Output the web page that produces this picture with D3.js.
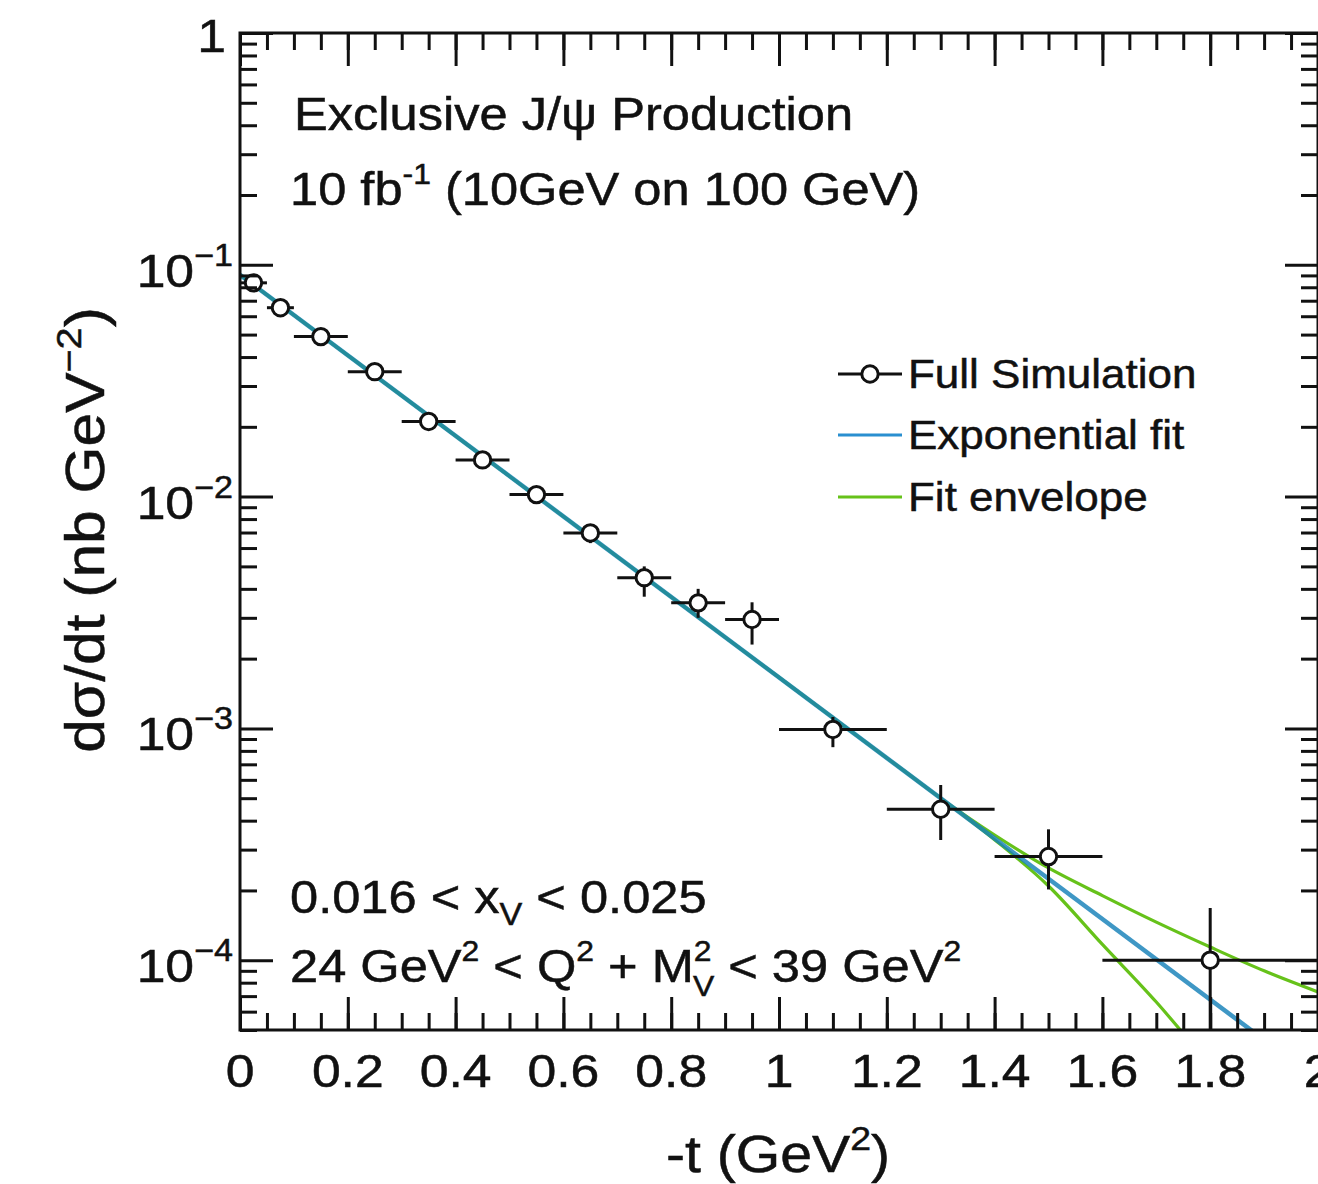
<!DOCTYPE html>
<html>
<head>
<meta charset="utf-8">
<script src="https://cdn.jsdelivr.net/npm/d3@7"></script>
<style>
  html, body { margin: 0; padding: 0; background: #ffffff; }
  svg { display: block; }
  text { font-family: "Liberation Sans", Arial, Helvetica, sans-serif; fill: #111; stroke: #111; stroke-width: 0.5; }
</style>
</head>
<body>
<svg id="chart" width="1318" height="1184"></svg>
<script>
// ---------------- data ----------------
const tCenters   = [0.025, 0.075, 0.15, 0.25, 0.35, 0.45, 0.55, 0.65, 0.75, 0.85, 0.95, 1.1, 1.3, 1.5, 1.8];
const tHalfWidth = [0.025, 0.025, 0.05, 0.05, 0.05, 0.05, 0.05, 0.05, 0.05, 0.05, 0.05, 0.1, 0.1, 0.1, 0.2];
const dsdt       = [0.0836, 0.0653, 0.049, 0.0346, 0.0211, 0.0144, 0.0102, 0.00697, 0.00447, 0.00348, 0.00295, 0.00099, 0.000448, 0.00028, 0.0001];
const dsdtLow    = [0.081, 0.063, 0.047, 0.033, 0.0199, 0.0134, 0.0094, 0.0063, 0.0037, 0.0030, 0.0023, 0.00083, 0.00033, 0.000202, 0.00003];
const dsdtHigh   = [0.086, 0.067, 0.051, 0.0363, 0.0224, 0.0154, 0.0110, 0.0076, 0.0050, 0.0040, 0.0035, 0.00112, 0.00057, 0.000367, 0.000168];

// exponential fit (straight line on log axis), endpoints
const fitT   = [0, 2.0];
const fitVal = [0.0905, 3.04e-5];

// fit envelope curves (coincide with the fit up to t ~ 1.3)
const envUpperT   = [0, 0.5, 1.0, 1.2, 1.3, 1.4, 1.5, 1.6, 1.7, 1.8, 1.9, 2.0];
const envUpperVal = [0.0905, 0.01225, 0.00166, 7.46e-4, 5.0e-4, 3.47e-4, 2.5e-4, 1.9e-4, 1.46e-4, 1.14e-4, 9.0e-5, 7.3e-5];
const envLowerT   = [0, 0.5, 1.0, 1.2, 1.3, 1.4, 1.5, 1.6, 1.7, 1.8];
const envLowerVal = [0.0905, 0.01225, 0.00166, 7.46e-4, 5.0e-4, 3.31e-4, 2.09e-4, 1.17e-4, 6.6e-5, 3.5e-5];

const xMajorTicks = [0, 0.2, 0.4, 0.6, 0.8, 1, 1.2, 1.4, 1.6, 1.8, 2];
const xTickLabels = ["0", "0.2", "0.4", "0.6", "0.8", "1", "1.2", "1.4", "1.6", "1.8", "2"];
const yMajorTicks = [1, 1e-1, 1e-2, 1e-3, 1e-4];
const yTickExps   = [null, "\u22121", "\u22122", "\u22123", "\u22124"];

const legendLabels = ["Full Simulation", "Exponential fit", "Fit envelope"];

// ---------------- layout ----------------
const L = 240, R = 1318, T = 33, B = 1030;
const SX = 1.1; // horizontal stretch of glyphs in the reference
const BLUE = "#1580b8", GREEN = "#66c21a";
const MR = 8.2;

const svg = d3.select("#chart");
svg.append("rect").attr("width", 1318).attr("height", 1184).attr("fill", "#fff");

const x = d3.scaleLinear().domain([0, 2]).range([L, R]);
const y = d3.scaleLog().domain([5e-5, 1]).range([B, T]);

svg.append("defs").append("clipPath").attr("id", "clip")
  .append("rect").attr("x", L).attr("y", T).attr("width", R - L).attr("height", B - T);

// ---------------- curves ----------------
const curveG = svg.append("g").attr("clip-path", "url(#clip)");
const lineGen = d3.line().x(d => x(d[0])).y(d => y(d[1])).curve(d3.curveMonotoneX);

curveG.append("path").datum(d3.zip(envUpperT, envUpperVal)).attr("d", lineGen)
  .attr("fill", "none").attr("stroke", GREEN).attr("stroke-width", 3.2);
curveG.append("path").datum(d3.zip(envLowerT, envLowerVal)).attr("d", lineGen)
  .attr("fill", "none").attr("stroke", GREEN).attr("stroke-width", 3.2);
curveG.append("path").datum(d3.zip(fitT, fitVal)).attr("d", d3.line().x(d => x(d[0])).y(d => y(d[1])))
  .attr("fill", "none").attr("stroke", BLUE).attr("stroke-opacity", 0.82).attr("stroke-width", 4.5);

// ---------------- data points ----------------
const pts = tCenters.map((t, i) => ({t, hw: tHalfWidth[i], v: dsdt[i], lo: dsdtLow[i], hi: dsdtHigh[i]}));
const ptG = svg.append("g").attr("clip-path", "url(#clip)");
const eb = ptG.selectAll("g.pt").data(pts).join("g").attr("class", "pt");
eb.append("line").attr("x1", d => x(d.t - d.hw)).attr("x2", d => x(d.t + d.hw))
  .attr("y1", d => y(d.v)).attr("y2", d => y(d.v)).attr("stroke", "#111").attr("stroke-width", 3);
eb.append("line").attr("x1", d => x(d.t)).attr("x2", d => x(d.t))
  .attr("y1", d => y(d.lo)).attr("y2", d => y(d.hi)).attr("stroke", "#111").attr("stroke-width", 3);
eb.append("circle").attr("cx", d => x(d.t)).attr("cy", d => y(d.v)).attr("r", MR)
  .attr("fill", "#fff").attr("stroke", "#111").attr("stroke-width", 3);

// ---------------- axes / frame ----------------
const axisStyle = g => g.call(s => s.select(".domain").remove())
  .call(s => s.selectAll("line").attr("stroke", "#111").attr("stroke-width", 3));

const xMinor = d3.range(0, 2.0001, 0.05).map(v => +v.toFixed(2));
svg.append("g").attr("transform", `translate(0,${B})`)
  .call(d3.axisBottom(x).tickValues(xMinor).tickSize(-17).tickFormat("")).call(axisStyle);
svg.append("g").attr("transform", `translate(0,${B})`)
  .call(d3.axisBottom(x).tickValues(xMajorTicks).tickSize(-33).tickFormat("")).call(axisStyle);
svg.append("g").attr("transform", `translate(0,${T})`)
  .call(d3.axisTop(x).tickValues(xMinor).tickSize(-17).tickFormat("")).call(axisStyle);
svg.append("g").attr("transform", `translate(0,${T})`)
  .call(d3.axisTop(x).tickValues(xMajorTicks).tickSize(-33).tickFormat("")).call(axisStyle);

const yMinor = [];
for (let e = -5; e < 0; e++) for (let m = 2; m <= 9; m++) {
  const v = m * Math.pow(10, e);
  if (v >= 5e-5 && v <= 1) yMinor.push(v);
}
svg.append("g").attr("transform", `translate(${L},0)`)
  .call(d3.axisLeft(y).tickValues(yMinor).tickSize(-17).tickFormat("")).call(axisStyle);
svg.append("g").attr("transform", `translate(${L},0)`)
  .call(d3.axisLeft(y).tickValues(yMajorTicks).tickSize(-33).tickFormat("")).call(axisStyle);
svg.append("g").attr("transform", `translate(${R},0)`)
  .call(d3.axisRight(y).tickValues(yMinor).tickSize(-17).tickFormat("")).call(axisStyle);
svg.append("g").attr("transform", `translate(${R},0)`)
  .call(d3.axisRight(y).tickValues(yMajorTicks).tickSize(-33).tickFormat("")).call(axisStyle);

svg.append("rect").attr("x", L).attr("y", T).attr("width", R - L).attr("height", B - T)
  .attr("fill", "none").attr("stroke", "#111").attr("stroke-width", 3);

// ---------------- text helper ----------------
function txt(xp, yp, size, anchor) {
  return svg.append("text")
    .attr("transform", `translate(${xp},${yp}) scale(${SX},1)`)
    .attr("font-size", size).attr("text-anchor", anchor || "start");
}

// x tick labels
xMajorTicks.forEach((v, i) => {
  txt(x(v), 1087, 47, "middle").text(xTickLabels[i]);
});
// y tick labels
yMajorTicks.forEach((v, i) => {
  if (yTickExps[i] === null) {
    txt(226, y(v) + 19, 47, "end").text("1");
  } else {
    const t = txt(233, y(v) + 22, 47, "end");
    t.append("tspan").text("10");
    t.append("tspan").attr("dy", -21).attr("font-size", 31).text(yTickExps[i]);
  }
});

// axis titles
{
  const t = txt(778, 1172, 52, "middle");
  t.append("tspan").text("-t (GeV");
  t.append("tspan").attr("dy", -22).attr("font-size", 34).text("2");
  t.append("tspan").attr("dy", 22).text(")");
}
{
  const t = svg.append("text")
    .attr("transform", `translate(104,530) rotate(-90) scale(${SX},1)`)
    .attr("font-size", 55).attr("text-anchor", "middle");
  t.append("tspan").text("d\u03c3/dt (nb GeV");
  t.append("tspan").attr("dy", -23).attr("font-size", 36).text("\u22122");
  t.append("tspan").attr("dy", 23).text(")");
}

// header texts
txt(294, 130, 46).text("Exclusive J/\u03c8 Production");
{
  const t = txt(290, 205, 46);
  t.append("tspan").text("10 fb");
  t.append("tspan").attr("dy", -21).attr("font-size", 29).text("-1");
  t.append("tspan").attr("dy", 21).text(" (10GeV on 100 GeV)");
}
// bottom-left labels
{
  const t = txt(290, 913, 46);
  t.append("tspan").text("0.016 < x");
  t.append("tspan").attr("dy", 12).attr("font-size", 31).text("V");
  t.append("tspan").attr("dy", -12).text(" < 0.025");
}
{
  const t = txt(290, 982, 46);
  t.append("tspan").text("24 GeV");
  t.append("tspan").attr("dy", -21).attr("font-size", 29).text("2");
  t.append("tspan").attr("dy", 21).text(" < Q");
  t.append("tspan").attr("dy", -21).attr("font-size", 29).text("2");
  t.append("tspan").attr("dy", 21).text(" + M");
  t.append("tspan").attr("dy", -21).attr("font-size", 29).text("2");
  t.append("tspan").attr("dy", 35).attr("dx", -17).attr("font-size", 29).text("V");
  t.append("tspan").attr("dy", -14).text(" < 39 GeV");
  t.append("tspan").attr("dy", -21).attr("font-size", 29).text("2");
}

// ---------------- legend ----------------
const legY = [374, 435, 497];
const lg = svg.append("g");
lg.append("line").attr("x1", 838).attr("x2", 902).attr("y1", legY[0]).attr("y2", legY[0])
  .attr("stroke", "#111").attr("stroke-width", 3);
lg.append("circle").attr("cx", 870).attr("cy", legY[0]).attr("r", MR)
  .attr("fill", "#fff").attr("stroke", "#111").attr("stroke-width", 3);
lg.append("line").attr("x1", 838).attr("x2", 902).attr("y1", legY[1]).attr("y2", legY[1])
  .attr("stroke", "#2a8fd0").attr("stroke-width", 3);
lg.append("line").attr("x1", 838).attr("x2", 902).attr("y1", legY[2]).attr("y2", legY[2])
  .attr("stroke", GREEN).attr("stroke-width", 3);
legendLabels.forEach((s, i) => {
  txt(908, legY[i] + 14, 40).text(s);
});
</script>
</body>
</html>
